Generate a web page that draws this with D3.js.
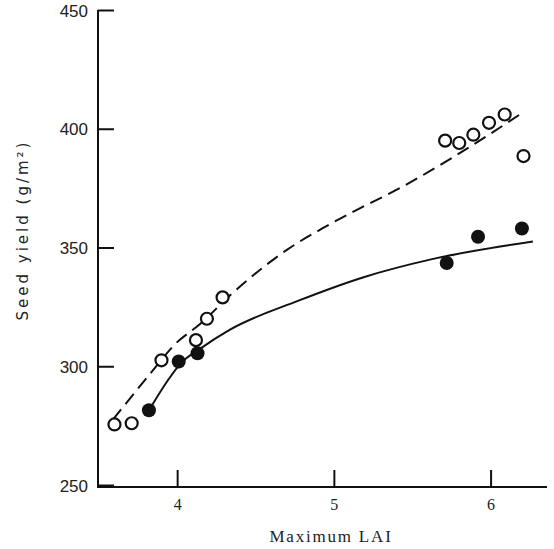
<!DOCTYPE html>
<html>
<head>
<meta charset="utf-8">
<script src="https://cdn.jsdelivr.net/npm/d3@7"></script>
<style>
  body { margin: 0; background: #fff; }
  svg { display: block; }
</style>
</head>
<body>
<div id="chart"></div>
<script>
// values
let openLAI   = [3.60, 3.71, 3.90, 4.12, 4.19, 4.29, 5.71, 5.80, 5.89, 5.99, 6.09, 6.21]
let openYield = [275.5, 276, 302.5, 311, 320, 329, 395, 394, 397.5, 402.5, 406, 388.5]

let filledLAI   = [3.82, 4.01, 4.13, 5.72, 5.92, 6.20]
let filledYield = [281.5, 302, 305.5, 343.5, 354.5, 358]

// fitted curves
let dashLAI   = [3.59, 3.83, 3.99, 4.15, 4.34, 4.70, 4.98, 5.49, 5.76, 6.21]
let dashYield = [277.5, 297, 309.5, 318, 330, 349, 360, 377.5, 388, 407]

let solidLAI   = [3.83, 3.94, 4.02, 4.15, 4.34, 4.77, 5.19, 5.62, 6.27]
let solidYield = [282.5, 294, 301, 307.5, 315.5, 327.5, 337.5, 345, 352.5]

let xTicks = [4, 5, 6]
let yTicks = [250, 300, 350, 400, 450]

let width = 554, height = 549

let svg = d3.select('#chart').append('svg')
    .attr('width', width)
    .attr('height', height)

let x = d3.scaleLinear().domain([3.495, 6.36]).range([98, 547])
let y = d3.scaleLinear().domain([250, 450]).range([485, 10])

// axes, ticks pointing inward
let xAxis = d3.axisBottom(x).tickValues(xTicks).tickFormat(d3.format('d'))
    .tickSizeInner(-17).tickSizeOuter(0).tickPadding(12)
let yAxis = d3.axisLeft(y).tickValues(yTicks).tickFormat(d3.format('d'))
    .tickSizeInner(-16).tickSizeOuter(0).tickPadding(10)

let gx = svg.append('g').attr('transform', 'translate(0,487)').call(xAxis)
gx.select('.domain').attr('d', 'M98,0H547')
gx.selectAll('path, line').attr('stroke', '#111').attr('stroke-width', 2)
gx.selectAll('text')
    .attr('font-family', '"Liberation Serif", "DejaVu Serif", serif')
    .attr('font-size', 16)
    .attr('fill', '#222')

let gy = svg.append('g').attr('transform', 'translate(98,0)').call(yAxis)
gy.select('.domain').attr('d', 'M0,10V488')
gy.selectAll('path, line').attr('stroke', '#111').attr('stroke-width', 2)
gy.selectAll('text')
    .attr('font-family', '"Liberation Sans", Arial, sans-serif')
    .attr('font-size', 17)
    .attr('fill', '#222')
    .attr('dy', '0.36em')

// axis titles
svg.append('text')
    .attr('x', 331).attr('y', 542)
    .attr('text-anchor', 'middle')
    .attr('font-family', '"Liberation Serif", "DejaVu Serif", serif')
    .attr('font-size', 17)
    .attr('letter-spacing', 1.8)
    .attr('fill', '#222')
    .text('Maximum LAI')

svg.append('text')
    .attr('transform', 'translate(28,230) rotate(-90)')
    .attr('text-anchor', 'middle')
    .attr('font-family', '"DejaVu Sans", sans-serif')
    .attr('font-size', 15)
    .attr('letter-spacing', 3)
    .attr('fill', '#222')
    .text('Seed yield (g/m²)')

// curves
let line = d3.line()
    .x(function(d) { return x(d[0]) })
    .y(function(d) { return y(d[1]) })
    .curve(d3.curveMonotoneX)

svg.append('path')
    .datum(d3.zip(dashLAI, dashYield))
    .attr('d', line)
    .attr('fill', 'none')
    .attr('stroke', '#111')
    .attr('stroke-width', 2)
    .attr('stroke-dasharray', '13,7')

svg.append('path')
    .datum(d3.zip(solidLAI, solidYield))
    .attr('d', line)
    .attr('fill', 'none')
    .attr('stroke', '#111')
    .attr('stroke-width', 2)

// points
svg.append('g').selectAll('circle')
    .data(d3.zip(openLAI, openYield))
    .join('circle')
    .attr('cx', function(d) { return x(d[0]) })
    .attr('cy', function(d) { return y(d[1]) })
    .attr('r', 6)
    .attr('fill', '#fff')
    .attr('stroke', '#111')
    .attr('stroke-width', 2.2)

svg.append('g').selectAll('circle')
    .data(d3.zip(filledLAI, filledYield))
    .join('circle')
    .attr('cx', function(d) { return x(d[0]) })
    .attr('cy', function(d) { return y(d[1]) })
    .attr('r', 7)
    .attr('fill', '#111')
</script>
</body>
</html>
